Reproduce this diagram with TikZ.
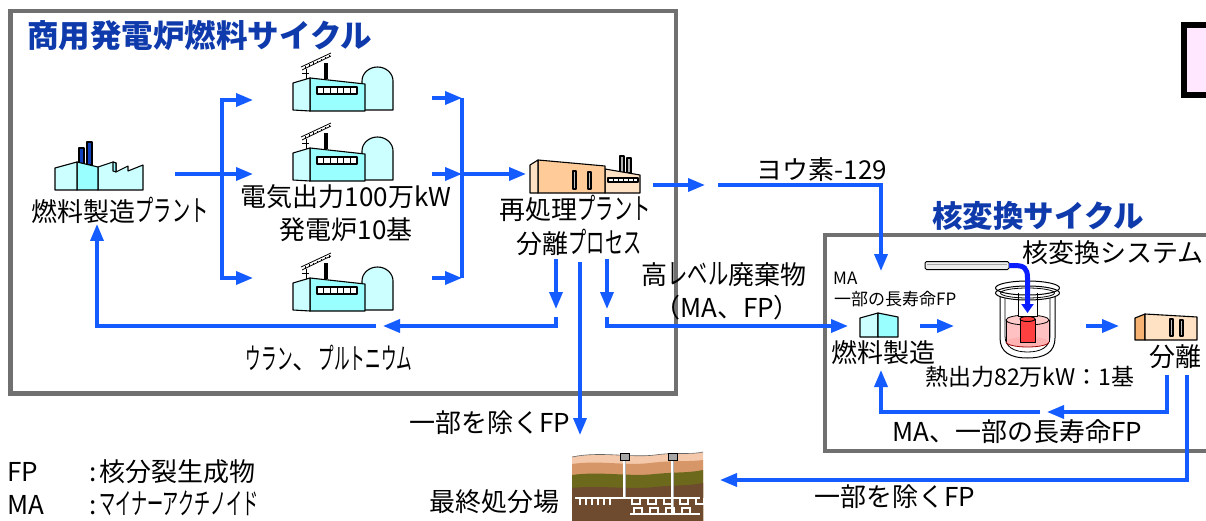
\documentclass[tikz,border=0pt]{standalone}
\usepackage{graphicx}
\usepackage{fontspec}
\setmainfont{Noto Sans CJK JP}
\usetikzlibrary{arrows.meta}
\definecolor{flowblue}{RGB}{20,92,255}
\definecolor{pipeblue}{RGB}{10,30,255}
\definecolor{titleblue}{RGB}{14,58,172}
\definecolor{framegray}{RGB}{112,112,112}
\definecolor{cyanA}{RGB}{204,255,255}
\definecolor{cyanB}{RGB}{153,255,255}
\definecolor{peachA}{RGB}{255,226,196}
\definecolor{peachB}{RGB}{255,204,153}
\definecolor{peachC}{RGB}{245,178,115}
\definecolor{pinkbox}{RGB}{255,232,255}
\definecolor{soilA}{RGB}{244,200,170}
\definecolor{soilB}{RGB}{214,150,104}
\definecolor{soilC}{RGB}{108,104,28}
\definecolor{soilD}{RGB}{110,74,46}
\definecolor{chimblue}{RGB}{16,64,190}

% narrow, tall (half-width style) katakana
\newcommand{\nk}[2][0.7]{\scalebox{#1}[1.13]{#2}}

\tikzset{
  flow/.style={draw=flowblue, line width=3.5pt},
  tip/.style={-{Triangle[length=17pt,width=13pt]}},
  frame/.style={draw=framegray, line width=4.5pt},
  lbl/.style={font=\fontsize{26}{30}\selectfont, inner sep=0pt},
  lblsmall/.style={font=\fontsize{17}{20}\selectfont, inner sep=0pt},
  ttl/.style={font=\fontsize{30.5}{34}\selectfont\bfseries, text=titleblue, inner sep=0pt},
  ol/.style={draw=black, line width=1.1pt, line join=round},
  powerplant/.pic={
    \fill (31,10) rectangle (35,26);
    \draw[line width=0.8pt] (8,14) -- (38,0);
    \draw[line width=0.8pt] (9,17) -- (38,3);
    \foreach \k in {0,...,6} \draw[line width=0.5pt] (12+\k*4,13.2-\k*1.85) -- (12+\k*4,15.6-\k*1.85);
    \draw[line width=0.8pt] (13,16) -- (13,28);
    \draw[line width=0.8pt] (9,20) -- (16,20);
    \draw[ol, fill=cyanA] (69,57) -- (69,28) arc[start angle=180, end angle=0, x radius=15.5pt, y radius=14pt] -- (100,57) -- cycle;
    \draw[ol, fill=cyanB] (17,25) -- (72,31) -- (72,58) -- (17,58) -- cycle;
    \draw[ol, fill=cyanA] (0,30) -- (17,25) -- (17,58) -- (0,57) -- cycle;
    \draw[ol, fill=white] (24,34) rectangle (64,41);
    \foreach \k in {1,...,5} \draw[line width=0.8pt] (24+\k*6.67,34) -- (24+\k*6.67,41);
  },
  fuelplant/.pic={
    \draw[ol, fill=chimblue] (24,7) rectangle (29,24);
    \draw[ol, fill=chimblue] (32,1) rectangle (37,24);
    \draw[ol, fill=cyanA] (43,49) -- (43,26) -- (58,21) -- (61,22) -- (61,31) -- (73,25) -- (73,30) -- (88,24) -- (88,49) -- cycle;
    \draw[ol, fill=cyanB] (61,22) -- (61,31) -- (58,30) -- (58,21) -- cycle;
    \draw[ol, fill=cyanB] (22,21) -- (43,26) -- (43,49) -- (22,49) -- cycle;
    \draw[ol, fill=cyanA] (0,27) -- (22,21) -- (22,49) -- (0,49) -- cycle;
  },
  reproplant/.pic={
    \draw[ol, fill=gray!60] (90,0) rectangle (94,17);
    \draw[ol, fill=gray!60] (97,2) rectangle (101,17);
    \draw[ol, fill=peachA] (75,13) -- (110,19) -- (110,37) -- (75,37) -- cycle;
    \draw[ol, fill=white] (78,22) rectangle (108,26);
    \foreach \k in {1,...,5} \draw[line width=0.7pt] (78+\k*5,22) -- (78+\k*5,26);
    \draw[ol, fill=peachB] (8,4) -- (75,10) -- (75,37) -- (8,37) -- cycle;
    \draw[ol, fill=peachA] (0,9) -- (8,4) -- (8,37) -- (0,37) -- cycle;
    \draw[ol, fill=gray!50] (43,15) rectangle (46,33);
    \draw[ol, fill=gray!50] (58,16) rectangle (61,33);
  },
  sepplant/.pic={
    \draw[ol, fill=peachC] (0,5) -- (10,1) -- (10,27) -- (0,27) -- cycle;
    \draw[ol, fill=peachA] (10,1) -- (62,4) -- (62,27) -- (10,27) -- cycle;
    \draw[ol, fill=gray!50] (35,6) rectangle (38,23);
    \draw[ol, fill=gray!50] (45,7) rectangle (48,23);
  },
  fabsmall/.pic={
    \draw[ol, fill=cyanA] (0,5) -- (18,0) -- (18,24) -- (0,24) -- cycle;
    \draw[ol, fill=cyanB] (18,0) -- (38,4) -- (38,24) -- (18,24) -- cycle;
  }
}

\begin{document}
\begin{tikzpicture}[x=1pt, y=-1pt]
\useasboundingbox (0,0) rectangle (1206,521);
\fill[white] (0,0) rectangle (1206,521);

% ---------- frames ----------
\draw[frame] (10.5,11) rectangle (676,393.5);
\draw[frame] (825,235) rectangle (1215,451);
\draw[line width=6pt, fill=pinkbox] (1184,25) rectangle (1220,95);

% ---------- titles ----------
\node[ttl, anchor=west, font=\fontsize{31.5}{34}\selectfont\bfseries] (cycleA) at (27,36) {商用発電炉燃料サイクル};
\node[ttl, anchor=west] (cycleB) at (932,216) {核変換サイクル};

% ---------- plants of the commercial cycle ----------
\pic at (55,141) {fuelplant};
\pic at (293,53) {powerplant};
\pic at (293,123) {powerplant};
\pic at (293,253) {powerplant};
\pic at (530,156) {reproplant};

\node[lbl] (fab) at (120,210) {燃料製造\nk{プラント}};
\node[lbl] (pwA) at (346,197) {電気出力100万kW};
\node[lbl] (pwB) at (346,230) {発電炉10基};
\node[lbl] (repA) at (575,208) {再処理\nk{プラント}};
\node[lbl] (repB) at (579,242) {分離\nk{プロセス}};
\node[lbl] (iodine) at (822,170) {ヨウ素-129};
\node[lbl] (hlwA) at (724,275) {高\nk[0.78]{レベル}廃棄物};
\node[lbl] (hlwB) at (727,308) {（MA、FP）};
\node[lbl] (upu) at (329,358) {\nk[0.6]{ウラン}、\nk[0.6]{プルトニウム}};
\node[lbl] (exA) at (490,423) {一部を除くFP};
\node[lbl] (repo) at (494,502) {最終処分場};

% ---------- legend ----------
\node[lbl, anchor=west] (keyFP) at (7,472) {FP};
\node[lbl, anchor=west] (defFP) at (89,472) {:\hspace{3pt}核分裂生成物};
\node[lbl, anchor=west] (keyMA) at (7,505) {MA};
\node[lbl, anchor=west] (defMA) at (89,503) {:\hspace{3pt}\nk[0.62]{マイナーアクチノイド}};

% ---------- connectors, commercial cycle ----------
\coordinate (fabOut) at (175,174);
\coordinate (splitL) at (222,174);
\coordinate (inTop) at (253,100);
\coordinate (inMid) at (253,174);
\coordinate (inBot) at (253,278);
\draw[flow, tip] (fabOut) -- (inMid);
\draw[flow, tip] (splitL) |- (inTop);
\draw[flow, tip] (splitL) |- (inBot);

\coordinate (outTop) at (432,98);
\coordinate (outMid) at (432,174);
\coordinate (outBot) at (432,278);
\coordinate (joinTop) at (462,98);
\coordinate (joinMid) at (462,174);
\coordinate (joinBot) at (462,278);
\coordinate (repIn) at (526,174);
\draw[flow] (joinTop) -- (joinBot);
\draw[flow, tip] (outTop) -- (joinTop);
\draw[flow, tip] (outMid) -- (joinMid);
\draw[flow, tip] (outBot) -- (joinBot);
\draw[flow, tip] (joinMid) -- (repIn);

% recycled uranium and plutonium
\coordinate (upStart) at (556,259);
\coordinate (upEnd) at (556,309);
\coordinate (upTurn) at (556,317);
\coordinate (upMid) at (383,326);
\coordinate (upRest) at (376,326);
\coordinate (fabIn) at (97,224);
\draw[flow, tip] (upStart) -- (upEnd);
\draw[flow, tip] (upTurn) |- (upMid);
\draw[flow, tip] (upRest) -| (fabIn);

% fission products to the repository
\coordinate (fpStart) at (580,262);
\coordinate (fpEnd) at (580,435);
\draw[flow, tip] (fpStart) -- (fpEnd);

% high level waste to the transmutation cycle
\coordinate (hlwStart) at (607,259);
\coordinate (hlwEnd) at (607,309);
\coordinate (hlwTurn) at (607,317);
\coordinate (fabBIn) at (848,326);
\draw[flow, tip] (hlwStart) -- (hlwEnd);
\draw[flow, tip] (hlwTurn) |- (fabBIn);

% iodine-129
\coordinate (iodA) at (653,185);
\coordinate (iodB) at (705,185);
\coordinate (iodC) at (718,185);
\coordinate (iodD) at (881,271);
\draw[flow, tip] (iodA) -- (iodB);
\draw[flow, tip] (iodC) -| (iodD);

% ---------- transmutation cycle ----------
\pic at (860,313) {fabsmall};
\pic at (1135,313) {sepplant};
\node[lblsmall, anchor=west] (maS) at (833,278) {MA};
\node[lblsmall, anchor=west] (lfpS) at (834,299) {一部の長寿命FP};
\node[lbl] (fabB) at (883,353) {燃料製造};
\node[lbl, anchor=west] (tsys) at (1022,253) {核変換システム};
\node[lbl, anchor=west] (sepB) at (1149,357) {分離};
\node[lbl, font=\fontsize{23}{26}\selectfont] (heat) at (1030,377) {熱出力82万kW：1基};
\node[lbl] (malfp) at (1017,432) {MA、一部の長寿命FP};
\node[lbl] (exB) at (895,497) {一部を除くFP};

% transmutation system: beam line and reactor vessel
\draw[line width=1pt, fill=gray!15, rounded corners=1.5pt] (925,261.5) rectangle (1009,269.5);
\draw[line width=0.8pt, gray!70] (927,264) -- (1007,264);
\draw[line width=1pt, fill=white] (1000,290) -- (1000,338) .. controls (1000,352) and (1010,358) .. (1027.5,358) .. controls (1045,358) and (1055,352) .. (1055,338) -- (1055,290);
\draw[line width=0.8pt] (1005,294) -- (1005,336) .. controls (1005,347) and (1014,352) .. (1027.5,352) .. controls (1041,352) and (1050,347) .. (1050,336) -- (1050,294);
\fill[red!30, opacity=0.8] (1006,320) rectangle (1049,342);
\fill[red!30] (1027.5,342) ellipse[x radius=21.5pt, y radius=5pt];
\draw[line width=0.8pt, fill=red!20] (1027.5,320) ellipse[x radius=21.5pt, y radius=5pt];
\draw[line width=0.8pt] (1006,320) -- (1006,342);
\draw[line width=0.8pt] (1049,320) -- (1049,342);
\draw[line width=0.8pt, red!60!black] (1006,342) arc[start angle=180, end angle=360, x radius=21.5pt, y radius=5pt];
\draw[line width=0.9pt, fill=red!75] (1020,319) rectangle (1035,342);
\draw[line width=0.9pt, fill=red!75] (1027.5,319) ellipse[x radius=7.5pt, y radius=2.5pt];
\draw[line width=0.8pt, fill=white] (1018,293) rectangle (1037,316);
\draw[line width=1pt, fill=white] (1027.5,293) ellipse[x radius=32pt, y radius=7pt];
\draw[line width=1pt] (1027.5,288) ellipse[x radius=32pt, y radius=7pt];
\draw[line width=0.8pt] (1027.5,293) ellipse[x radius=27pt, y radius=5pt];
\draw[line width=0.8pt] (1018,293) -- (1018,316);
\draw[line width=0.8pt] (1037,293) -- (1037,316);
\coordinate (beamOut) at (1009,265.5);
\coordinate (beamTip) at (1027.5,313);
\draw[pipeblue, line width=5pt, -{Triangle[length=9pt,width=12pt]}] (beamOut) -- (1014,265.5) .. controls (1024,265.5) and (1027.5,268) .. (1027.5,278) -- (beamTip);

% flows inside the transmutation cycle
\coordinate (fabBOut) at (920,326);
\coordinate (reacIn) at (954,326);
\coordinate (reacOut) at (1086,326);
\coordinate (sepIn) at (1119,326);
\draw[flow, tip] (fabBOut) -- (reacIn);
\draw[flow, tip] (reacOut) -- (sepIn);

\coordinate (retStart) at (1167,375);
\coordinate (retMid) at (1047,412);
\coordinate (retRest) at (1040,412);
\coordinate (retEnd) at (881,370);
\draw[flow, tip] (retStart) |- (retMid);
\draw[flow, tip] (retRest) -| (retEnd);

\coordinate (fpBStart) at (1187,375);
\coordinate (repoIn) at (720,480);
\draw[flow, tip] (fpBStart) |- (repoIn);

% ---------- final repository ----------
\fill[soilA] (572,457) .. controls (600,451) and (630,458) .. (655,455) .. controls (675,452) and (690,455) .. (703,452) -- (703,521) -- (572,521) -- cycle;
\fill[soilB] (572,464) .. controls (600,460) and (625,466) .. (650,463) .. controls (675,460) and (690,462) .. (703,460) -- (703,521) -- (572,521) -- cycle;
\fill[soilC] (572,475) .. controls (600,471) and (630,477) .. (655,474) .. controls (675,472) and (690,473) .. (703,470) -- (703,521) -- (572,521) -- cycle;
\fill[soilD] (572,488) .. controls (600,485) and (630,490) .. (655,487) .. controls (675,485) and (690,486) .. (703,483) -- (703,521) -- (572,521) -- cycle;
\draw[line width=0.6pt, black!60] (572,457) .. controls (600,451) and (630,458) .. (655,455) .. controls (675,452) and (690,455) .. (703,452);
\draw[gray!60, line width=3pt] (624,459) -- (624,498);
\draw[white, line width=1.8pt] (624,459) -- (624,498);
\draw[gray!60, line width=3pt] (672,459) -- (672,514);
\draw[white, line width=1.8pt] (672,459) -- (672,514);
\draw[white, line width=2pt] (575,498) -- (700,498);
\foreach \xx in {580,586,592,598,604,610} \draw[white, line width=1.8pt] (\xx,498) -- (\xx,505);
\foreach \xx in {632,648,664,680,696} \draw[white, line width=1.8pt] (\xx,498) -- (\xx,504) -- (\xx+8,504) -- (\xx+8,498);
\draw[white, line width=2pt] (630,514) -- (700,514);
\foreach \xx in {634,650,666,682} \draw[white, line width=1.8pt] (\xx,514) -- (\xx,508) -- (\xx+8,508) -- (\xx+8,514);
\draw[line width=0.8pt, fill=gray!70] (620,453) rectangle (629,460);
\draw[line width=0.8pt, fill=gray!70] (668,453) rectangle (677,460);
\end{tikzpicture}
\end{document}
